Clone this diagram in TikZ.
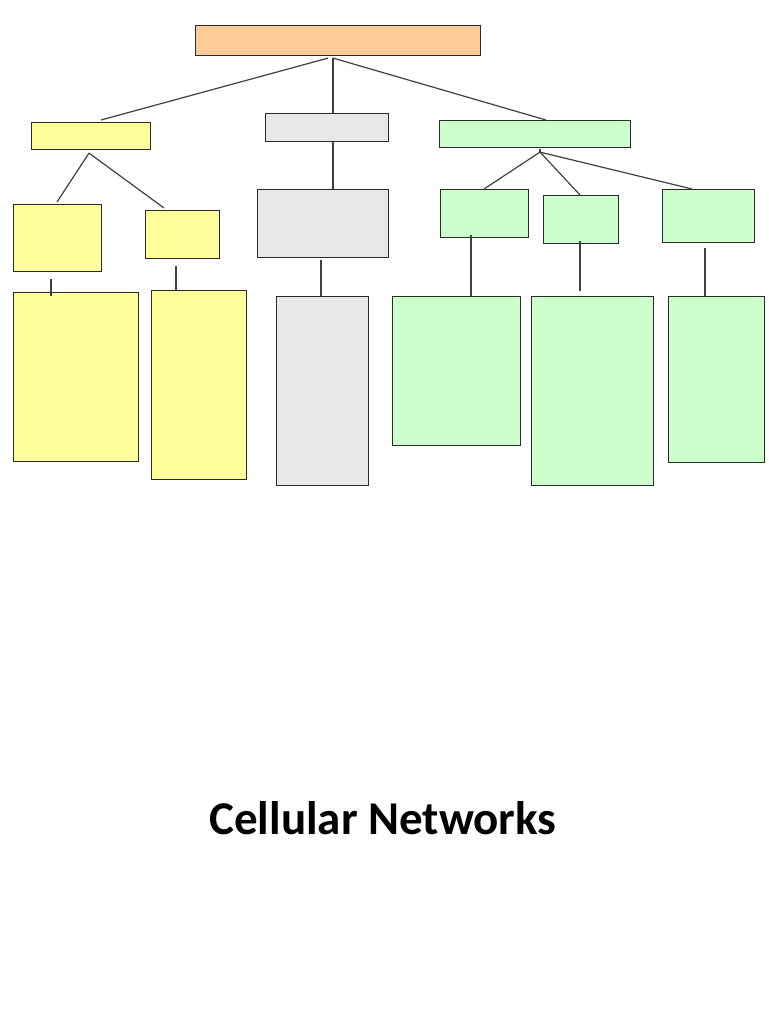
\documentclass[tikz,border=0pt]{standalone}
\usepackage{fontspec}
\newfontfamily\titlefont{Carlito}
\usetikzlibrary{calc}
\definecolor{peach}{HTML}{FFCC99}
\definecolor{lyellow}{HTML}{FFFF99}
\definecolor{lgray}{HTML}{E8E8E8}
\definecolor{lgreen}{HTML}{CCFFCC}
\definecolor{edge}{HTML}{2A2A2A}
\definecolor{conncol}{HTML}{404040}
\tikzset{
  box/.style={draw=edge, line width=1.1pt, inner sep=0pt, anchor=north west},
  conn/.style={draw=conncol, line width=1.2pt},
}
\newcommand{\bx}[6]{\node[box, fill=#2, minimum width=#5pt-#3pt, minimum height=#6pt-#4pt] (#1) at (#3pt,-#4pt) {};}
\begin{document}
\begin{tikzpicture}[x=1pt,y=1pt]
\useasboundingbox (0,0) rectangle (768,-1024);
% level 0
\bx{root}{peach}{195}{25}{480}{55}
% level 1
\bx{ya}{lyellow}{31}{122}{150}{149}
\bx{ga}{lgray}{265}{113}{388}{141}
\bx{gra}{lgreen}{439}{120}{630}{147}
% level 2
\bx{yb1}{lyellow}{13}{204}{101}{271}
\bx{yb2}{lyellow}{145}{210}{219}{258}
\bx{gb}{lgray}{257}{189}{388}{257}
\bx{grb1}{lgreen}{440}{189}{528}{237}
\bx{grb2}{lgreen}{543}{195}{618}{243}
\bx{grb3}{lgreen}{662}{189}{754}{242}
% level 3
\bx{yc1}{lyellow}{13}{292}{138}{461}
\bx{yc2}{lyellow}{151}{290}{246}{479}
\bx{gc}{lgray}{276}{296}{368}{485}
\bx{grc1}{lgreen}{392}{296}{520}{445}
\bx{grc2}{lgreen}{531}{296}{653}{485}
\bx{grc3}{lgreen}{668}{296}{764}{462}
% junctions and free ends
\coordinate (rj) at ($(root.south)+(-5,-2)$);
\coordinate (rjl) at ($(root.south)+(-10,-2)$);
\coordinate (yj) at ($(ya.south west)+(58,-3)$);
\coordinate (grj) at ($(gra.south west)+(101,-4)$);
\coordinate (grjt) at ($(gra.south west)+(101,-1)$);
\coordinate (yb1s) at ($(yb1.south west)+(38,-7)$);
\coordinate (yc1t) at ($(yc1.north west)+(38,-4)$);
\coordinate (yb2s) at ($(yb2.south west)+(31,-7)$);
\coordinate (yc2t) at ($(yb2.south west)+(31,-32)$);
\coordinate (gas) at ($(ga.south west)+(68,0)$);
\coordinate (gbn) at ($(gb.north west)+(76,0)$);
\coordinate (gbs) at ($(gb.south west)+(64,-2)$);
\coordinate (gct) at ($(gc.north west)+(45,0)$);
\coordinate (grb1s) at ($(grb1.south west)+(31,3)$);
\coordinate (grc1t) at ($(grc1.north west)+(79,0)$);
\coordinate (grb2s) at ($(grb2.south west)+(37,3)$);
\coordinate (grb2e) at ($(grb2.south west)+(37,-47)$);
\coordinate (grb3s) at ($(grb3.south west)+(43,-5)$);
\coordinate (grc3t) at ($(grc3.north west)+(37,0)$);
% connectors level 0-1
\draw[conn] (rjl) -- ($(ya.north west)+(70,2)$);
\draw[conn] (rj) -- (rj |- ga.north);
\draw[conn] (rj) -- ($(gra.north west)+(107,0)$);
% yellow branch
\draw[conn] (yj) -- ($(yb1.north west)+(44,2)$);
\draw[conn] (yj) -- ($(yb2.north west)+(19,2)$);
\draw[conn] (yb1s) -- (yc1t);
\draw[conn] (yb2s) -- (yc2t);
% gray branch
\draw[conn] (gas) -- (gbn);
\draw[conn] (gbs) -- (gct);
% green branch
\draw[conn] (grjt) -- (grj);
\draw[conn] (grj) -- ($(grb1.north west)+(44,0)$);
\draw[conn] (grj) -- ($(grb2.north west)+(37,0)$);
\draw[conn] (grj) -- ($(grb3.north west)+(30,0)$);
\draw[conn] (grb1s) -- (grc1t);
\draw[conn] (grb2s) -- (grb2e);
\draw[conn] (grb3s) -- (grc3t);
% title
\node[font=\titlefont\bfseries\fontsize{47}{56}\selectfont, anchor=center] (title) at (383,-818) {Cellular Networks};
\end{tikzpicture}
\end{document}
